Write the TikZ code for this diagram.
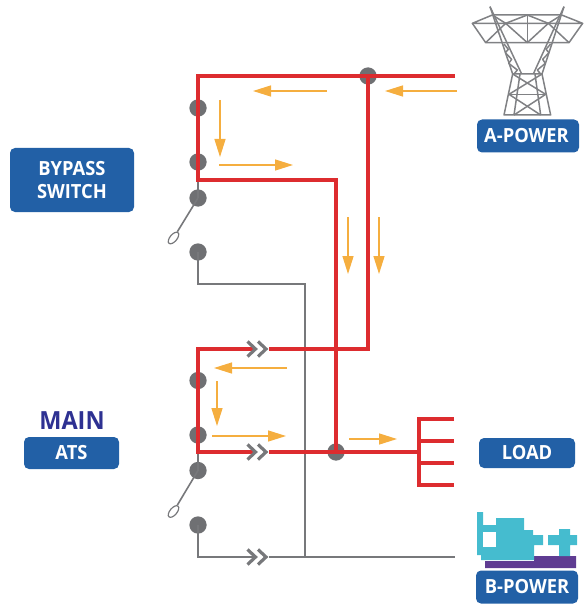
\documentclass[tikz,border=0pt]{standalone}
\usepackage{fontspec}
\setmainfont{Open Sans}[FakeStretch=0.94]
\usetikzlibrary{arrows.meta,shapes.geometric}
\definecolor{redw}{HTML}{DD2C2F}
\definecolor{grayw}{HTML}{77787B}
\definecolor{dotg}{HTML}{6F7073}
\definecolor{orng}{HTML}{F5AE3F}
\definecolor{bluebox}{HTML}{2260A6}
\definecolor{indigo}{HTML}{2E3192}
\definecolor{cyang}{HTML}{45BCCF}
\definecolor{purp}{HTML}{5F3C92}
\definecolor{tow}{HTML}{808184}
\tikzset{
 x=1pt,y=-1pt,
 redline/.style={draw=redw,line width=3.4pt,line join=miter},
 redthick/.style={draw=redw,line width=4pt,line join=miter},
 grayline/.style={draw=grayw,line width=2pt},
 dotn/.style={circle,fill=dotg,inner sep=0pt,minimum size=17.3pt},
 flow/.style={draw=orng,line width=1.4pt,-{Triangle[length=18pt,width=11pt]}},
 boxlabel/.style={fill=bluebox,rounded corners=5pt,text=white,font=\fontsize{19.5}{23}\selectfont\bfseries,align=center,inner sep=0pt},
 chev/.style={draw=grayw,line width=3.2pt,line join=miter},
 tw/.style={draw=tow,line width=1.5pt,line join=round},
 knob/.style={draw=grayw,line width=1.2pt,ellipse,minimum width=14pt,minimum height=7pt,inner sep=0pt,rotate=50},
}
\newcommand{\chevrons}[1]{%
 \draw[chev] ([xshift=-21.5pt,yshift=-7.5pt]#1) -- ([xshift=-13.5pt]#1) -- ([xshift=-21.5pt,yshift=7.5pt]#1);
 \draw[chev] ([xshift=-11pt,yshift=-7.5pt]#1) -- ([xshift=-3pt]#1) -- ([xshift=-11pt,yshift=7.5pt]#1);
}
\begin{document}
\begin{tikzpicture}
\useasboundingbox (0,0) rectangle (586,604);
% coordinates
\coordinate (tl) at (198,76);
\coordinate (tr) at (455,76);
\coordinate (sb1) at (198,180);
\coordinate (sb2) at (336,180);
\coordinate (sb3) at (336,452);
\coordinate (m1) at (198,349);
\coordinate (m2) at (368,349);
\coordinate (m3) at (198,452);
\coordinate (bus) at (421,452);
\coordinate (ch1) at (269,349);
\coordinate (ch2) at (269,452);
\coordinate (ch3) at (269,557);
\coordinate (ci1) at (256,349);
\coordinate (ci2) at (256,452);
\coordinate (ci3) at (256,557);
\coordinate (gb1) at (198,284);
\coordinate (gb2) at (305,284);
\coordinate (gb3) at (305,557);
\coordinate (gc1) at (198,557);
\coordinate (gc2) at (455,557);
% gray wires
\node[dotn] (d3) at (198,198) {};
\node[dotn] (d4) at (198,252) {};
\node[dotn] (d7) at (198,470.5) {};
\node[dotn] (d8) at (198,525) {};
\draw[grayline] (sb1) -- (d3.center);
\draw[grayline] (m3) -- (d7.center);
\draw[grayline] (d4.center) -- (gb1) -- (gb2) -- (gb3);
\draw[grayline] (d8.center) -- (gc1) -- (ci3);
\draw[grayline] (ch3) -- (gc2);
% switch arms
\node[knob] (sw1) at (173.5,238) {};
\node[knob] (sw2) at (173.5,511.5) {};
\draw[grayline,line width=1.6pt] (d3.center) -- (sw1);
\draw[grayline,line width=1.6pt] (d7.center) -- (sw2);
% dots under red
\node[dotn] (d1) at (198,108) {};
\node[dotn] (d2) at (198,162) {};
\node[dotn] (d5) at (198,380.5) {};
\node[dotn] (d6) at (198,435) {};
\node[dotn] (d9) at (368,76) {};
\node[dotn] (d10) at (336,452) {};
% red wires
\draw[redthick] (tr) -- (tl) -- (sb1) -- (sb2) -- (sb3);
\draw[redline] (d9.center) -- (m2) -- (ch1);
\draw[redline] (ci1) -- (m1) -- (m3) -- (ci2);
\draw[redline] (ch2) -- (bus);
% load
\coordinate (l1) at (454,419);
\coordinate (l2) at (454,441);
\coordinate (l3) at (454,463);
\coordinate (l4) at (454,485);
\draw[redline] (l1) -- (419,419) -- (419,485) -- (l4);
\draw[redline] (419,441) -- (l2);
\draw[redline] (419,463) -- (l3);
% chevrons
\chevrons{ch1}
\chevrons{ch2}
\chevrons{ch3}
% flows
\coordinate (a1s) at (327,91); \coordinate (a1e) at (253,91);
\coordinate (a2s) at (457,91); \coordinate (a2e) at (385,91);
\coordinate (a3s) at (220,100); \coordinate (a3e) at (220,157);
\coordinate (a4s) at (219,165); \coordinate (a4e) at (293,165);
\coordinate (a5s) at (348,217); \coordinate (a5e) at (348,274);
\coordinate (a6s) at (379,217); \coordinate (a6e) at (379,274);
\coordinate (a7s) at (287,368); \coordinate (a7e) at (214,368);
\coordinate (a8s) at (217,381); \coordinate (a8e) at (217,426);
\coordinate (a9s) at (212,436); \coordinate (a9e) at (286,436);
\coordinate (a10s) at (349,439); \coordinate (a10e) at (397,439);
\foreach \i in {1,...,10} \draw[flow] (a\i s) -- (a\i e);
% labels
\node[boxlabel,minimum width=124pt,minimum height=64pt] (bypass) at (72,180) {BYPASS\\[-0.5pt]SWITCH};
\node[boxlabel,minimum width=102pt,minimum height=33pt] (apower) at (528,136) {A-POWER\hspace{3pt}};
\node[boxlabel,minimum width=96pt,minimum height=30pt] (load) at (527,453) {LOAD};
\node[boxlabel,minimum width=102pt,minimum height=33pt] (bpower) at (527,587) {B-POWER};
\node[boxlabel,minimum width=95pt,minimum height=32pt] (ats) at (71.5,453) {ATS};
\node[text=indigo,font=\fontsize{25}{29}\selectfont\bfseries,inner sep=0pt] (main) at (72,421) {MAIN};
% generator
\fill[purp] (485,561) -- (534,561) -- (534,556) -- (576,556) -- (576,568) -- (485,568) -- cycle;
\fill[cyang] (477,512) -- (483,512) -- (483,525) -- (496,525) -- (496,518) -- (524,518) -- (524,530) -- (533,530) -- (533,535) -- (543,535) -- (543,545) -- (534,545) -- (534,560) -- (481,560) -- (481,555) -- (477,555) -- cycle;
\fill[white] (483,532) rectangle (496,547);
\fill[cyang] (559,529) -- (570,529) -- (570,535) -- (577,535) -- (577,545) -- (570,545) -- (570,556) -- (559,556) -- (559,545) -- (548,545) -- (548,535) -- (559,535) -- cycle;
% tower
\begin{scope}[shift={(440,0)},x=0.3333pt,y=-0.3333pt]
\draw[tw] (150,20) -- (218,222);
\draw[tw] (150,20) -- (245,222);
\draw[tw] (372,20) -- (306,222);
\draw[tw] (372,20) -- (280,222);
\draw[tw] (157,45) -- (365,45) -- (428,70) -- (97,70) -- cycle;
\draw[tw] (97,70) -- (137,128) -- (387,128) -- (428,70);
\draw[tw] (137,128) -- (197,70) -- (262,128) -- (325,70) -- (387,128);
\draw[tw] (197,70) -- (262,45) -- (325,70);
\draw[tw] (262,45) -- (262,128);
\draw[tw] (157,45) -- (197,70);
\draw[tw] (365,45) -- (325,70);
\draw[tw] (192,132) -- (205,148) -- (196,158) -- (215,178) -- (206,190) -- (232,210) -- (222,222);
\draw[tw] (332,132) -- (318,148) -- (327,158) -- (308,178) -- (316,190) -- (292,210) -- (302,222);
\draw[tw] (218,222) -- (192,345) -- (332,345) -- (306,222) -- cycle;
\draw[tw] (240,222) -- (222,345);
\draw[tw] (285,222) -- (302,345);
\draw[tw] (207,283) -- (317,283);
\draw[tw] (218,222) -- (317,283);
\draw[tw] (306,222) -- (207,283);
\draw[tw] (207,283) -- (302,345);
\draw[tw] (317,283) -- (222,345);
\end{scope}
\end{tikzpicture}
\end{document}
